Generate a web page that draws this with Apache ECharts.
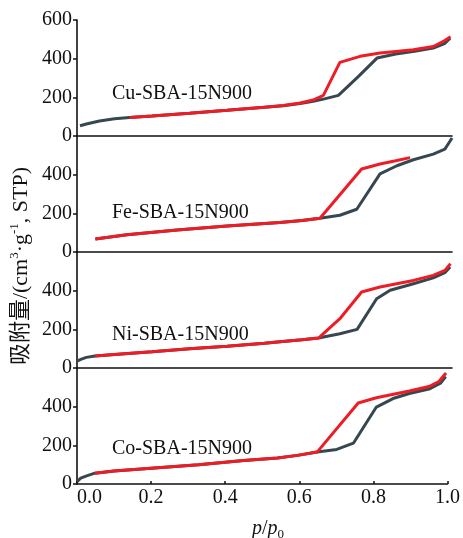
<!DOCTYPE html>
<html>
<head>
<meta charset="utf-8">
<script src="https://cdn.jsdelivr.net/npm/echarts@6/dist/echarts.min.js"></script>
<style>
  html, body { margin: 0; padding: 0; background: #fff; }
  #chart { width: 463px; height: 538px; }
</style>
</head>
<body>
<div id="chart"></div>
<script>
// N2 adsorption–desorption isotherms, [p/p0, volume] pairs
const sampleNames = ['Cu-SBA-15N900', 'Fe-SBA-15N900', 'Ni-SBA-15N900', 'Co-SBA-15N900'];

const cuAdsorption = [[0.008,53],[0.025,62],[0.06,78],[0.10,89],[0.14,96],[0.20,104],[0.30,118],[0.40,133],[0.50,149],[0.55,157],[0.595,168],[0.63,180],[0.66,192],[0.697,210],[0.75,307],[0.80,403],[0.85,424],[0.90,438],[0.95,455],[0.98,478],[0.995,506]];
const cuDesorption = [[0.14,96],[0.20,104],[0.30,118],[0.40,133],[0.50,149],[0.55,158],[0.595,171],[0.63,186],[0.657,210],[0.701,381],[0.755,412],[0.808,429],[0.85,437],[0.897,446],[0.95,463],[0.977,489],[0.996,514]];

const feAdsorption = [[0.049,67],[0.133,89],[0.267,114],[0.40,135],[0.541,152],[0.60,163],[0.648,175],[0.701,190],[0.746,221],[0.808,404],[0.853,446],[0.897,477],[0.95,506],[0.981,532],[0.995,574],[1.0,590]];
const feDesorption = [[0.049,67],[0.133,89],[0.267,114],[0.40,135],[0.541,152],[0.60,163],[0.648,175],[0.759,429],[0.808,455],[0.85,472],[0.888,488]];

const niAdsorption = [[0.0,35],[0.01,45],[0.025,55],[0.048,62],[0.10,70],[0.20,84],[0.30,99],[0.40,113],[0.50,128],[0.541,136],[0.60,146],[0.644,155],[0.701,177],[0.747,200],[0.799,358],[0.835,402],[0.897,436],[0.95,466],[0.981,493],[0.995,522]];
const niDesorption = [[0.048,62],[0.10,70],[0.20,84],[0.30,99],[0.40,113],[0.50,128],[0.541,136],[0.60,146],[0.644,155],[0.701,255],[0.759,393],[0.808,419],[0.897,453],[0.95,479],[0.981,505],[0.996,539]];

const coAdsorption = [[0.0,12],[0.01,30],[0.026,42],[0.048,56],[0.10,67],[0.20,82],[0.328,100],[0.45,121],[0.541,134],[0.595,148],[0.648,165],[0.701,179],[0.746,211],[0.808,398],[0.853,442],[0.897,468],[0.95,491],[0.981,521],[0.995,556]];
const coDesorption = [[0.048,56],[0.10,67],[0.20,82],[0.328,100],[0.45,121],[0.541,134],[0.595,148],[0.648,165],[0.759,419],[0.808,446],[0.897,481],[0.95,504],[0.977,530],[0.996,574]];

const adsorptionSets = [cuAdsorption, feAdsorption, niAdsorption, coAdsorption];
const desorptionSets = [cuDesorption, feDesorption, niDesorption, coDesorption];

const xMin = 0, xMax = 1, xStep = 0.2;
const yMin = 0, yMax = 600, yStep = 200;

const SERIF = "'Liberation Serif', 'Times New Roman', serif";
const SERIF_CJK = "'Liberation Serif', 'Noto Sans CJK SC', serif";
const INK = '#111';
const GRAY = '#37474f';
const RED = '#ee1c25';

const panelTop = 20, panelHeight = 116, plotLeft = 77, plotRight = 11;
const labelTops = [84, 203, 325, 439];

const grids = [], xAxes = [], yAxes = [], series = [], titles = [];
sampleNames.forEach((name, i) => {
  const last = i === sampleNames.length - 1;
  grids.push({ left: plotLeft, right: plotRight, top: panelTop + panelHeight * i, height: panelHeight });
  xAxes.push({
    type: 'value', gridIndex: i, min: xMin, max: xMax, interval: xStep,
    axisLine: { show: true, lineStyle: { color: INK, width: 1.6 } },
    axisTick: { show: last, inside: true, length: 3, lineStyle: { color: INK, width: 1.5 } },
    axisLabel: {
      show: last, margin: 4, alignMinLabel: 'left',
      formatter: v => v.toFixed(1),
      fontFamily: SERIF, fontSize: 20, color: INK
    },
    splitLine: { show: false }
  });
  yAxes.push({
    type: 'value', gridIndex: i, min: yMin, max: yMax, interval: yStep,
    axisLine: { show: true, lineStyle: { color: INK, width: 1.6 } },
    axisTick: { show: true, length: 4, lineStyle: { color: INK, width: 1.5 } },
    axisLabel: {
      showMaxLabel: i === 0, margin: 5,
      fontFamily: SERIF, fontSize: 20, color: INK
    },
    splitLine: { show: false }
  });
  series.push({
    type: 'line', xAxisIndex: i, yAxisIndex: i, data: adsorptionSets[i],
    showSymbol: false, silent: true, z: 2,
    lineStyle: { color: GRAY, width: 3 }
  });
  series.push({
    type: 'line', xAxisIndex: i, yAxisIndex: i, data: desorptionSets[i],
    showSymbol: false, silent: true, z: 3,
    lineStyle: { color: RED, width: 3 }
  });
  titles.push({
    text: name, left: 112, top: labelTops[i], padding: 0,
    textStyle: { fontFamily: SERIF, fontSize: 20, fontWeight: 'normal', color: INK }
  });
});

const chart = echarts.init(document.getElementById('chart'), null, { renderer: 'canvas' });
chart.setOption({
  animation: false,
  backgroundColor: '#fff',
  title: titles,
  grid: grids,
  xAxis: xAxes,
  yAxis: yAxes,
  series: series,
  graphic: [
    {
      type: 'text', x: 21, y: 266, rotation: Math.PI / 2,
      style: {
        text: '{a|吸附量/(cm}{s|3}{a|·g}{s|-1}{a|, STP)}',
        align: 'center', verticalAlign: 'middle',
        rich: {
          a: { fontFamily: SERIF_CJK, fontSize: 22, lineHeight: 26, fill: INK },
          s: { fontFamily: SERIF, fontSize: 13, verticalAlign: 'top', fill: INK }
        }
      }
    },
    {
      type: 'text', x: 268, y: 529,
      style: {
        text: '{i|p}{n|/}{i|p}{b|0}',
        align: 'center', verticalAlign: 'middle',
        rich: {
          i: { fontFamily: SERIF, fontSize: 20, fontStyle: 'italic', lineHeight: 24, fill: INK },
          n: { fontFamily: SERIF, fontSize: 20, lineHeight: 24, fill: INK },
          b: { fontFamily: SERIF, fontSize: 13, verticalAlign: 'bottom', fill: INK }
        }
      }
    }
  ]
});
</script>
</body>
</html>
